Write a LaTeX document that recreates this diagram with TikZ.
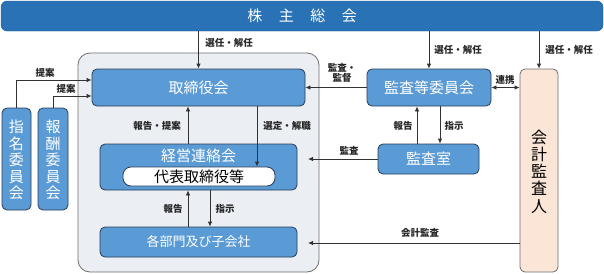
\documentclass[tikz,border=0pt]{standalone}
\usepackage{fontspec}
\newfontfamily\cjk{Noto Sans CJK JP}
\usetikzlibrary{arrows.meta}
\definecolor{barblue}{RGB}{41,114,181}
\definecolor{boxblue}{RGB}{91,155,213}
\definecolor{boxline}{RGB}{40,60,85}
\definecolor{contfill}{RGB}{235,238,242}
\definecolor{contline}{RGB}{110,110,110}
\definecolor{peach}{RGB}{251,229,214}
\definecolor{linegray}{RGB}{50,50,50}
\begin{document}
\begin{tikzpicture}[x=1pt,y=-1pt,
  box/.style={draw=boxline, fill=boxblue, rounded corners=5pt, line width=0.8pt, text=white, inner sep=0pt, font=\cjk\fontsize{15}{18}\selectfont},
  lbl/.style={font=\cjk\bfseries\fontsize{9.5}{10.5}\selectfont, text=black!85, inner sep=0pt, align=center},
  conn/.style={draw=linegray, line width=0.8pt, -{Latex[length=5pt,width=4.5pt]}},
  vtext/.style={align=center, inner sep=0pt}]
\useasboundingbox (0,0) rectangle (604,273);
% shareholders bar
\node[draw=barblue!80!black, fill=barblue, rounded corners=6pt, minimum width=602pt, minimum height=30pt, inner sep=0pt,
  text=white, font=\cjk\fontsize{15}{18}\selectfont] (bar) at (302,16) {株\hspace{1.1em}主\hspace{1.1em}総\hspace{1.1em}会};
% container
\node[draw=contline, fill=contfill, rounded corners=12pt, line width=0.8pt, minimum width=241pt, minimum height=219pt, inner sep=0pt] (cont) at (198.5,162.5) {};
% boxes
\node[box, minimum width=213pt, minimum height=37pt] (trs) at (198.5,87.5) {取締役会};
\node[box, minimum width=124pt, minimum height=37pt] (aud) at (429,87.5) {監査等委員会};
\node[draw=contline, fill=peach, rounded corners=5pt, line width=0.8pt, minimum width=38pt, minimum height=203pt, inner sep=0pt] (acc) at (539,170.5) {};
\node[vtext, font=\cjk\fontsize{16}{17.3}\selectfont, text=black] (acct) at (539,171.5) {会\\計\\監\\査\\人};
\node[box, minimum width=29pt, minimum height=102pt] (nom) at (16.5,159) {};
\node[vtext, font=\cjk\fontsize{15}{16.5}\selectfont, text=white] (nomt) at (16.5,160) {指\\名\\委\\員\\会};
\node[box, minimum width=30pt, minimum height=102pt] (rem) at (53,159) {};
\node[vtext, font=\cjk\fontsize{15}{16.5}\selectfont, text=white] (remt) at (53,160) {報\\酬\\委\\員\\会};
\node[box, minimum width=197pt, minimum height=46pt] (keiei) at (198.5,167) {};
\node[text=white, font=\cjk\fontsize{15}{18}\selectfont, inner sep=0pt] (keieit) at (198.5,156) {経営連絡会};
\node[draw=boxline, fill=white, rounded corners=8pt, line width=0.8pt, minimum width=152pt, minimum height=19pt, inner sep=0pt,
  font=\cjk\fontsize{15}{18}\selectfont, text=black] (rep) at (199,176.5) {代表取締役等};
\node[box, minimum width=197pt, minimum height=30pt, font=\cjk\fontsize{13}{16}\selectfont] (dept) at (198.5,242) {各部門及び子会社};
\node[box, minimum width=101pt, minimum height=30pt] (office) at (428.5,159) {監査室};
% helper coordinates
\coordinate (endx) at (308,0);
\coordinate (p1) at ([xshift=-10.5pt]keiei.north);
\coordinate (p2) at ([xshift=58.5pt]trs.south);
\coordinate (p3) at ([xshift=-10.5pt]dept.north);
\coordinate (p4) at ([xshift=11.5pt]keiei.south);
\coordinate (p5) at ([xshift=-11.5pt]office.north);
\coordinate (p6) at ([xshift=11pt]aud.south);
\coordinate (t1) at ([yshift=7.5pt]trs.west);
\coordinate (t2) at ([yshift=-8.5pt]trs.west);
\coordinate (ka) at (520,243);
% connectors
\draw[conn] (bar.south -| trs.north) -- (trs.north);
\draw[conn] (bar.south -| aud.north) -- (aud.north);
\draw[conn] (bar.south -| acc.north) -- (acc.north);
\draw[conn] (nom.north) |- (t1);
\draw[conn] (rem.north) |- (t2);
\draw[conn] (aud.west) -- (trs.east);
\draw[conn, {Latex[length=5pt,width=4.5pt]}-{Latex[length=5pt,width=4.5pt]}] (aud.east) -- (aud.east -| acc.west);
\draw[conn] (p1) -- (p1 |- trs.south);
\draw[conn] (p2) -- (p2 |- rep.north);
\draw[conn] (p3) -- (p3 |- keiei.south);
\draw[conn] (p4) -- (p4 |- dept.north);
\draw[conn] (p5) -- (p5 |- aud.south);
\draw[conn] (p6) -- (p6 |- office.north);
\draw[conn] (office.west) -- (office.west -| endx);
\draw[conn] (ka) -- (ka -| endx);
% labels
\node[lbl] (l1) at (229,43) {選任・解任};
\node[lbl] (l2) at (458,50) {選任・解任};
\node[lbl] (l3) at (569,50) {選任・解任};
\node[lbl] (l4) at (45,73) {提案};
\node[lbl] (l5) at (66,89) {提案};
\node[lbl] (l6) at (342,73) {監査・\\監督};
\node[lbl] (l7) at (505,80) {連携};
\node[lbl] (l8) at (157,126) {報告・提案};
\node[lbl] (l9) at (287,126) {選定・解職};
\node[lbl] (l10) at (403,126) {報告};
\node[lbl] (l11) at (454,126) {指示};
\node[lbl] (l12) at (349,151) {監査};
\node[lbl] (l13) at (420,233) {会計監査};
\node[lbl] (l14) at (173,209) {報告};
\node[lbl] (l15) at (225,209) {指示};
\end{tikzpicture}
\end{document}
